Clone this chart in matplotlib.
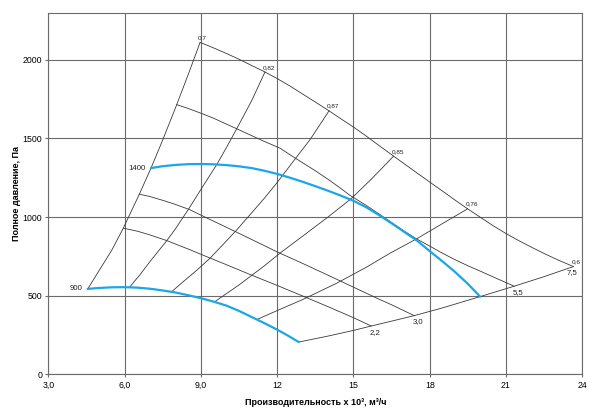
import matplotlib
matplotlib.use("Agg")
import matplotlib.pyplot as plt

plt.rcParams['font.family'] = ['Liberation Sans', 'DejaVu Sans']

# ====== DATA ======
x_ticks = [3, 6, 9, 12, 15, 18, 21, 24]
x_tick_labels = ["3,0", "6,0", "9,0", "12", "15", "18", "21", "24"]
y_ticks = [0, 500, 1000, 1500, 2000]

# speed curves, blue (rpm labelled)
rpm900_q = [4.55, 5.0, 5.5, 6.0, 6.5, 7.0, 7.5, 8.0, 8.5, 9.0, 9.5, 10.0, 10.5, 11.0, 11.5, 12.0, 12.4, 12.85]
rpm900_p = [543, 549, 553, 554, 551, 544, 533, 520, 503, 484, 462, 437, 403, 364, 325, 284, 248, 205]

rpm1400_q = [7.04, 7.5, 8.0, 8.5, 9.0, 9.5, 10.0, 10.5, 11.0, 11.5, 12.0, 12.5, 13.0, 13.5, 14.0,
             14.5, 15.0, 15.5, 16.0, 16.5, 17.0, 17.5, 18.0, 18.5, 19.0, 19.5, 19.98]
rpm1400_p = [1311, 1323, 1331, 1336, 1337, 1335, 1330, 1322, 1311, 1294, 1274, 1250, 1224, 1196, 1167,
             1136, 1103, 1062, 1013, 960, 905, 850, 783, 718, 650, 575, 494]

# speed curves, black (power labelled at the end)
curve22_q = [5.95, 6.5, 7.0, 7.66, 8.57, 9.0, 10.0, 11.0, 12.0, 13.0, 14.0, 15.0, 15.7]
curve22_p = [929, 910, 886, 850, 792, 763, 697, 630, 565, 498, 430, 360, 307]

curve30_q = [6.58, 7.0, 7.5, 8.0, 8.57, 9.0, 10.0, 11.0, 12.0, 13.0, 14.0, 15.0, 16.0, 16.5, 17.39]
curve30_p = [1145, 1130, 1106, 1080, 1046, 1012, 935, 857, 778, 705, 630, 554, 478, 442, 373]

curve55_q = [8.05, 8.5, 9.0, 9.5, 10.0, 10.41, 11.0, 11.5, 12.11, 12.52, 13.0, 13.5, 14.0, 14.5, 14.86,
             15.5, 16.0, 16.5, 17.0, 17.49, 18.0, 18.5, 19.0, 19.5, 20.0, 20.37, 21.32]
curve55_p = [1714, 1690, 1660, 1628, 1591, 1561, 1517, 1480, 1438, 1394, 1345, 1294, 1240, 1182, 1138,
             1074, 1020, 965, 910, 860, 815, 770, 728, 690, 655, 628, 560]

curve75_q = [8.97, 9.5, 10.0, 10.5, 11.0, 11.52, 12.0, 12.5, 13.0, 13.5, 14.04, 14.5, 15.0, 15.5, 16.0,
             16.58, 17.0, 17.5, 18.0, 18.5, 19.0, 19.49, 20.0, 20.5, 21.0, 21.5, 22.0, 22.5, 23.0, 23.65]
curve75_p = [2110, 2075, 2040, 2003, 1963, 1922, 1880, 1833, 1782, 1731, 1675, 1625, 1572, 1515, 1455,
             1387, 1338, 1280, 1222, 1165, 1107, 1052, 997, 944, 895, 850, 808, 768, 730, 685]

# efficiency lines
eff07_q = [4.55, 5.0, 5.5, 5.95, 6.58, 7.04, 7.5, 8.05, 8.5, 8.97]
eff07_p = [543, 660, 790, 929, 1145, 1311, 1490, 1714, 1905, 2110]

eff082_q = [6.21, 6.6, 7.0, 7.66, 8.0, 8.5, 9.0, 9.62, 10.0, 10.41, 11.0, 11.52]
eff082_p = [557, 632, 717, 850, 925, 1046, 1175, 1332, 1440, 1561, 1740, 1922]

eff087_q = [7.85, 8.3, 8.8, 9.36, 9.9, 10.41, 10.93, 11.5, 11.98, 12.64, 13.29, 14.04]
eff087_p = [525, 588, 656, 738, 830, 918, 1014, 1120, 1215, 1355, 1491, 1675]

eff085_q = [9.55, 10.5, 11.5, 12.11, 13.0, 14.0, 14.9, 15.7, 16.58]
eff085_p = [462, 568, 690, 770, 878, 1000, 1115, 1240, 1387]

eff076_q = [11.23, 12.0, 13.0, 14.34, 15.5, 16.44, 17.45, 18.5, 19.49]
eff076_p = [350, 405, 475, 579, 680, 770, 858, 958, 1052]

eff06_q = [12.85, 14.0, 15.0, 15.7, 16.5, 17.39, 18.5, 19.98, 21.32, 22.5, 23.65]
eff06_p = [205, 243, 279, 307, 338, 373, 422, 494, 560, 621, 685]

eff_labels = ["0,7", "0,82", "0,87", "0,85", "0,76", "0,6"]
power_labels = ["2,2", "3,0", "5,5", "7,5"]

# ====== PLOT ======
fig = plt.figure(figsize=(6, 4.2), dpi=100)
ax = fig.add_axes([0.0805, 0.1088, 0.89, 0.8614])

grid_col = "#6b6b6b"
line_col = "#3a3a3a"
blue = "#1ba6e8"

ax.set_xlim(3, 24)
ax.set_ylim(0, 2300)
ax.set_xticks(x_ticks)
ax.set_xticklabels(x_tick_labels)
ax.set_yticks(y_ticks)
ax.grid(True, color=grid_col, linewidth=0.8)
ax.set_axisbelow(True)
for s in ax.spines.values():
    s.set_color(grid_col)
    s.set_linewidth(0.8)
ax.tick_params(direction="out", length=2.5, width=0.8, color=grid_col,
               labelsize=6.3, pad=2)

black_curves = [(curve22_q, curve22_p), (curve30_q, curve30_p), (curve55_q, curve55_p),
                (curve75_q, curve75_p)]
eff_curves = [(eff07_q, eff07_p), (eff082_q, eff082_p), (eff087_q, eff087_p),
              (eff085_q, eff085_p), (eff076_q, eff076_p), (eff06_q, eff06_p)]

for q, p in black_curves + eff_curves:
    ax.plot(q, p, color=line_col, linewidth=0.6)

ax.plot(rpm900_q, rpm900_p, color=blue, linewidth=1.6, solid_capstyle="round")
ax.plot(rpm1400_q, rpm1400_p, color=blue, linewidth=1.6, solid_capstyle="round")

# efficiency labels at the top ends
for (q, p), lab in zip(eff_curves, eff_labels):
    ax.annotate(lab, (q[-1], p[-1]), xytext=(-1.5, 1.5), textcoords="offset points",
                ha="left", va="bottom", fontsize=4.6, color="#222222")

# power labels at the lower ends
for (q, p), lab in zip(black_curves, power_labels):
    ha = "center" if lab == "7,5" else "left"
    ax.annotate(lab, (q[-1], p[-1]), xytext=(-1, -2), textcoords="offset points",
                ha=ha, va="top", fontsize=5.6, color="#222222")

ax.annotate("900", (rpm900_q[0], rpm900_p[0]), xytext=(-4, 0), textcoords="offset points",
            ha="right", va="center", fontsize=5.6, color="#222222")
ax.annotate("1400", (rpm1400_q[0], rpm1400_p[0]), xytext=(-4, 0), textcoords="offset points",
            ha="right", va="center", fontsize=5.6, color="#222222")

ax.set_xlabel("Производительность x 10³, м³/ч", fontsize=6.5, fontweight="bold", labelpad=6)
ax.set_ylabel("Полное давление, Па", fontsize=6.5, fontweight="bold", labelpad=1)

fig.savefig("out.png", dpi=100)
